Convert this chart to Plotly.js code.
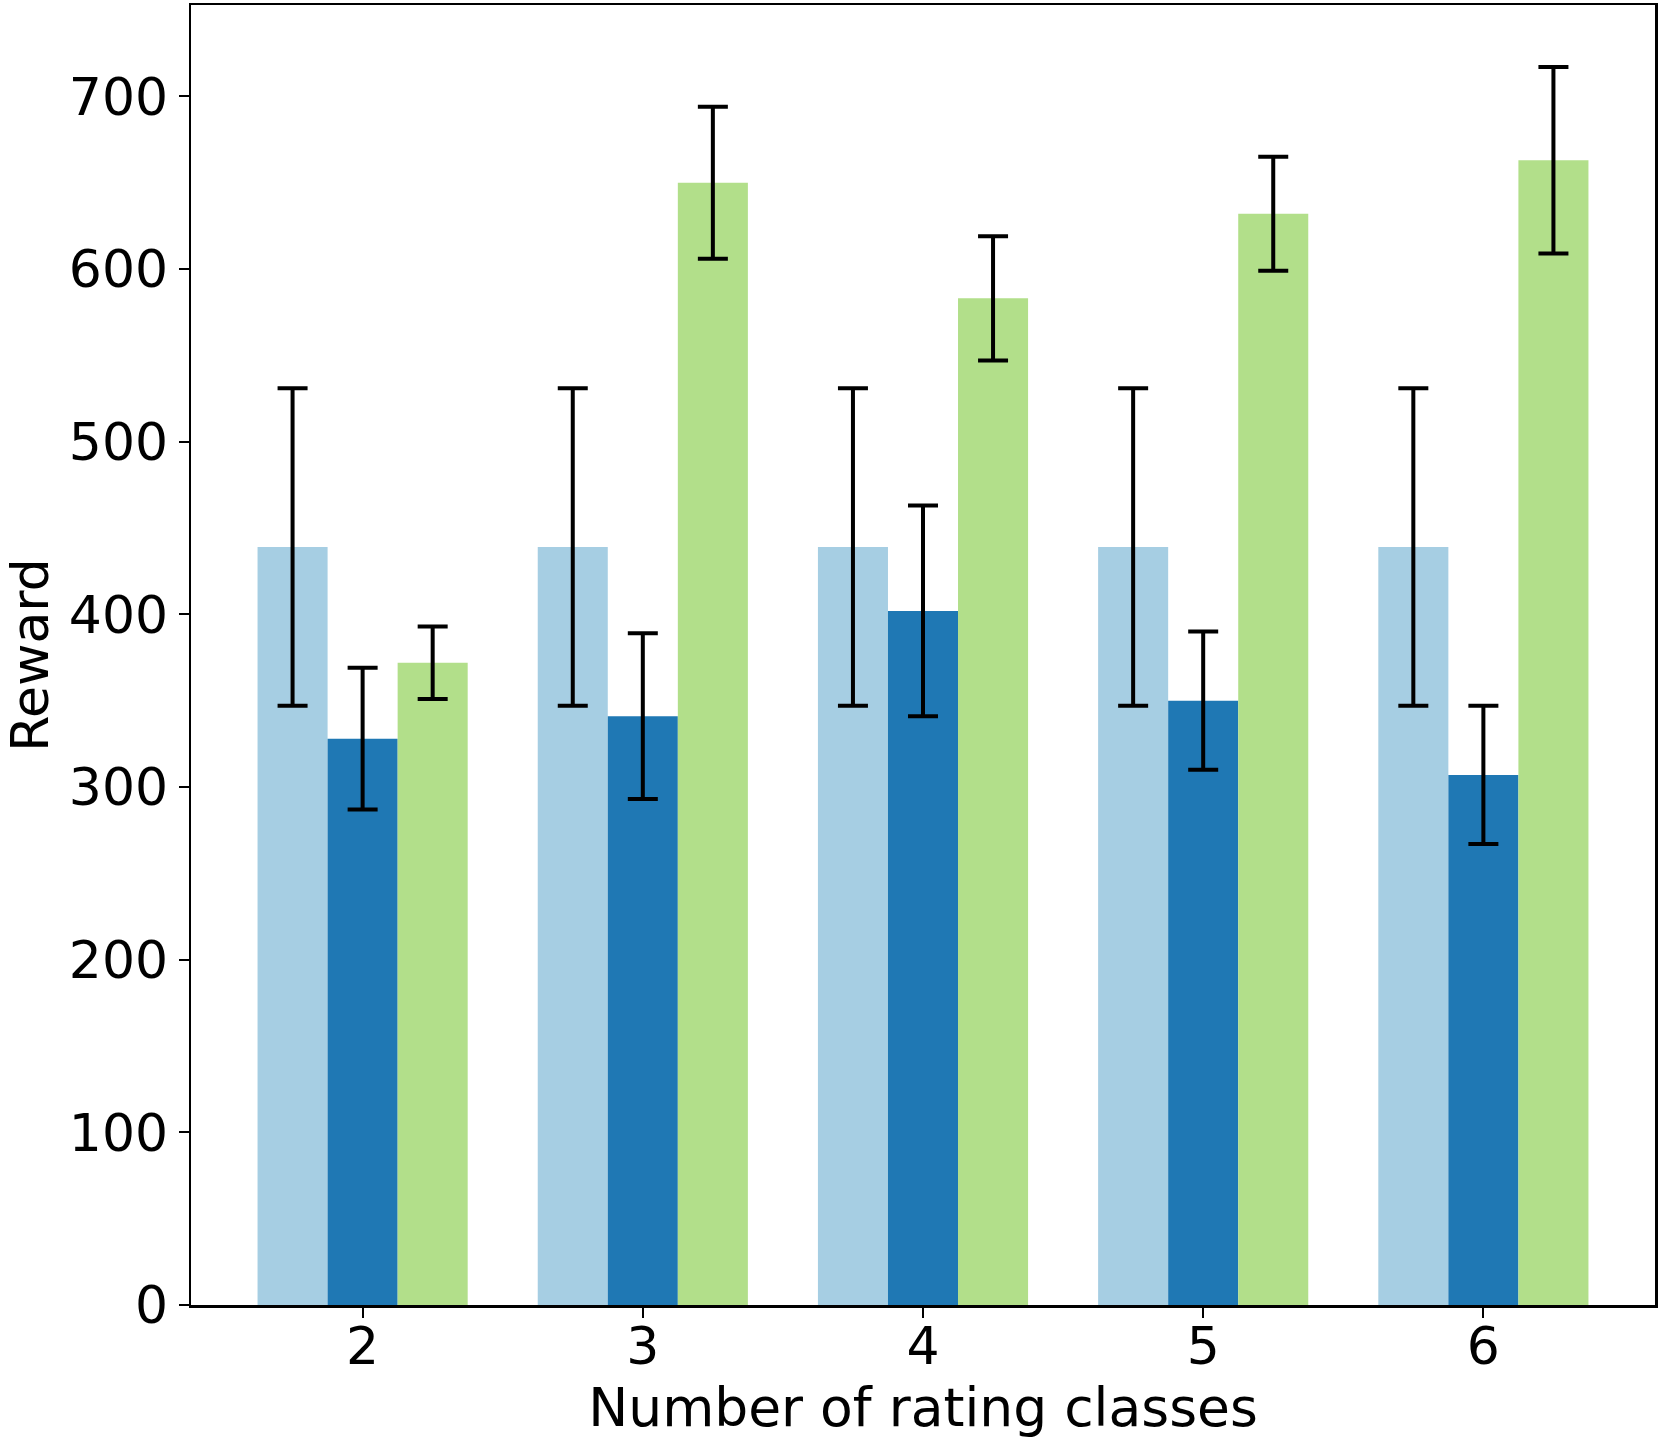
<!DOCTYPE html>
<html>
<head>
<meta charset="utf-8">
<script src="https://cdn.plot.ly/plotly-3.0.1.min.js"></script>
<style>html,body{margin:0;padding:0;background:#fff;}#chart{width:1661px;height:1446px;}</style>
</head>
<body>
<div id="chart"></div>
<script>
const categories = [2, 3, 4, 5, 6];
const baselineValues = [439, 439, 439, 439, 439];
const baselineErrors = [92, 92, 92, 92, 92];
const methodAValues = [328, 341, 402, 350, 307];
const methodAErrors = [41, 48, 61, 40, 40];
const methodBValues = [372, 650, 583, 632, 663];
const methodBErrors = [21, 44, 36, 33, 54];
const yTickValues = [0, 100, 200, 300, 400, 500, 600, 700];

const errStyle = {type: 'data', visible: true, color: '#000000', thickness: 4, width: 15};

const traces = [
  {type: 'bar', x: categories, y: baselineValues, marker: {color: '#a6cee3'},
   error_y: Object.assign({array: baselineErrors}, errStyle), name: 'baseline'},
  {type: 'bar', x: categories, y: methodAValues, marker: {color: '#1f78b4'},
   error_y: Object.assign({array: methodAErrors}, errStyle), name: 'A'},
  {type: 'bar', x: categories, y: methodBValues, marker: {color: '#b2df8a'},
   error_y: Object.assign({array: methodBErrors}, errStyle), name: 'B'}
];

const layout = {
  width: 1661, height: 1446,
  margin: {l: 191, r: 6, t: 5, b: 141},
  paper_bgcolor: '#ffffff', plot_bgcolor: '#ffffff',
  showlegend: false,
  barmode: 'group', bargap: 0.25, bargroupgap: 0,
  font: {family: 'DejaVu Sans', size: 52, color: '#000000'},
  xaxis: {
    range: [1.3875, 6.6125], tickvals: categories, ticktext: categories.map(String),
    showgrid: false, zeroline: false, showline: true, mirror: true,
    linecolor: '#000000', linewidth: 2.5,
    ticks: 'outside', ticklen: 10, tickwidth: 2, tickcolor: '#000000',
    ticklabelstandoff: -16,
    tickfont: {family: 'DejaVu Sans', size: 52}, automargin: false,
    title: {text: 'Number of rating classes', font: {family: 'DejaVu Sans', size: 53.5}, standoff: 8}
  },
  yaxis: {
    range: [0, 752.9], tickvals: yTickValues, ticktext: yTickValues.map(String),
    showgrid: false, zeroline: false, showline: true, mirror: true,
    linecolor: '#000000', linewidth: 2.5,
    ticks: 'outside', ticklen: 10, tickwidth: 2, tickcolor: '#000000',
    tickfont: {family: 'DejaVu Sans', size: 52}, automargin: false,
    title: {text: 'Reward', font: {family: 'DejaVu Sans', size: 52}, standoff: 18}
  }
};

Plotly.newPlot('chart', traces, layout, {staticPlot: true, displayModeBar: false});
</script>
</body>
</html>
